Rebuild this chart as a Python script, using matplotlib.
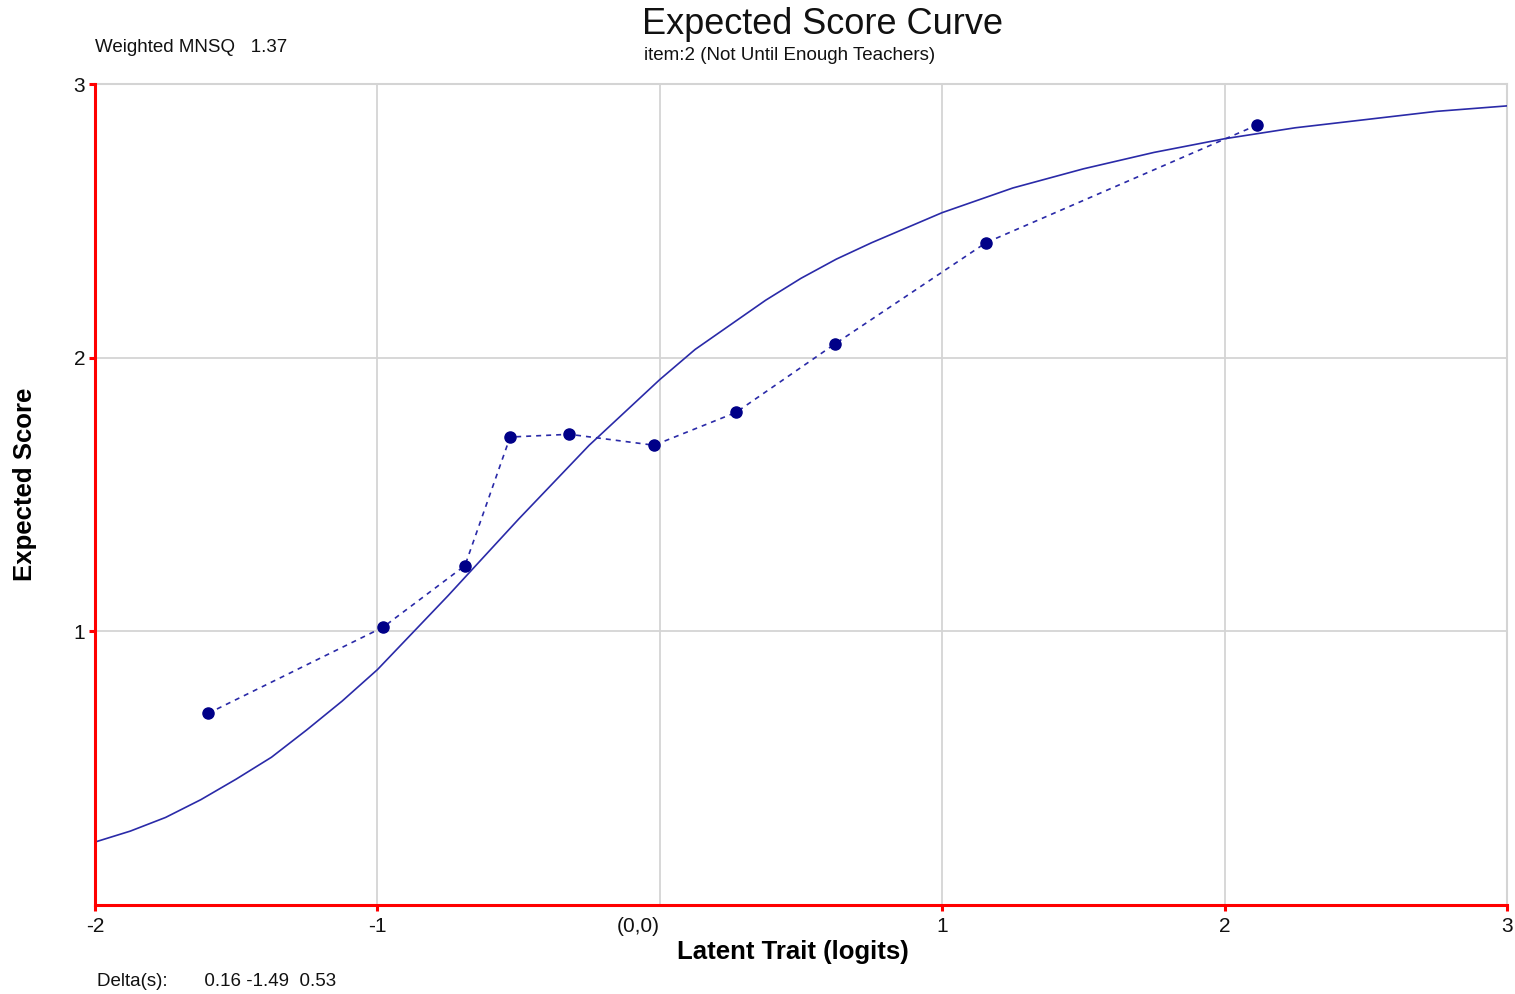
import matplotlib
matplotlib.use("Agg")
import matplotlib.pyplot as plt

plt.rcParams['font.family'] = ['Liberation Sans', 'DejaVu Sans']

# Model expected score curve
curve_x = [-2.0, -1.875, -1.75, -1.625, -1.5, -1.375, -1.25, -1.125, -1.0, -0.75,
           -0.5, -0.25, -0.125, 0.0, 0.125, 0.25, 0.375, 0.5, 0.625, 0.75, 1.0,
           1.25, 1.5, 1.75, 2.0, 2.25, 2.5, 2.75, 3.0]
curve_y = [0.23, 0.27, 0.32, 0.385, 0.46, 0.54, 0.64, 0.745, 0.86, 1.13,
           1.41, 1.68, 1.80, 1.92, 2.03, 2.12, 2.21, 2.29, 2.36, 2.42, 2.53,
           2.62, 2.69, 2.75, 2.80, 2.84, 2.87, 2.90, 2.92]

# Observed scores (dots)
obs_x = [-1.60, -0.98, -0.69, -0.53, -0.32, -0.02, 0.27, 0.62, 1.155, 2.115]
obs_y = [0.70, 1.015, 1.24, 1.71, 1.72, 1.68, 1.80, 2.05, 2.42, 2.85]

x_ticks = [-2, -1, 0, 1, 2, 3]
x_tick_labels = ['-2', '-1', '(0,0)', '1', '2', '3']
y_ticks = [1, 2, 3]
y_tick_labels = ['1', '2', '3']

fig = plt.figure(figsize=(15.15, 9.94), dpi=100)
ax = fig.add_axes([95/1515, (994-905)/994, (1507-95)/1515, (905-84)/994])

ax.plot(curve_x, curve_y, color='#2a2aa8', lw=1.2, zorder=3)
ax.plot(obs_x, obs_y, color='#2a2aa8', lw=1.2, ls=(0, (3, 3)), zorder=3)
ax.plot(obs_x, obs_y, ls='none', marker='o', ms=8, color='#000088', zorder=4)

ax.set_xlim(-2, 3)
ax.set_ylim(0, 3)
ax.set_xticks(x_ticks)
ax.set_xticklabels(x_tick_labels)
ax.set_yticks(y_ticks)
ax.set_yticklabels(y_tick_labels)
ax.grid(True, color='#d4d4d4', lw=1.3)
ax.set_axisbelow(True)

for s in ['top', 'right']:
    ax.spines[s].set_color('#d4d4d4')
    ax.spines[s].set_linewidth(1.5)
for s in ['left', 'bottom']:
    ax.spines[s].set_color('#ff0000')
    ax.spines[s].set_linewidth(2.2)
    ax.spines[s].set_zorder(5)

ax.tick_params(axis='both', colors='#ff0000', labelcolor='#111111',
               direction='out', length=4, width=2.2, labelsize=15, pad=3)
ax.tick_params(axis='x', pad=5)
# (0,0) label: right-aligned at the origin, no tick mark
t0 = ax.xaxis.get_major_ticks()[2]
t0.tick1line.set_visible(False)
t0.label1.set_horizontalalignment('right')

ax.set_xlabel('Latent Trait (logits)', fontsize=18.5, fontweight='bold', va='center')
ax.set_ylabel('Expected Score', fontsize=18.5, fontweight='bold', va='center')
ax.xaxis.set_label_coords((793-95)/1412, (905-952)/821)
ax.yaxis.set_label_coords((25-95)/1412, (905-484)/821)

fig.text(823/1515, 1 - 24/994, 'Expected Score Curve', fontsize=26,
         ha='center', va='center', color='#111111')
fig.text(790/1515, 1 - 55/994, 'item:2 (Not Until Enough Teachers)', fontsize=13.5,
         ha='center', va='center', color='#111111')
fig.text(95/1515, 1 - 48/994, 'Weighted MNSQ   1.37', fontsize=13.5,
         ha='left', va='center', color='#111111')
fig.text(97/1515, 1 - 981/994, 'Delta(s):       0.16 -1.49  0.53', fontsize=13.5,
         ha='left', va='center', color='#111111')

fig.savefig('out.png', dpi=100, facecolor='white')
